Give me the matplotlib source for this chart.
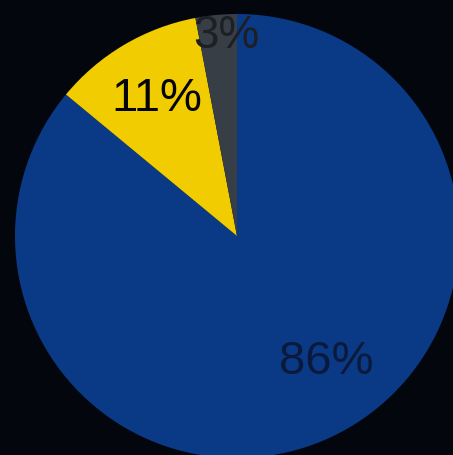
import numpy as np
import matplotlib.pyplot as plt

# Datos del gráfico
labels = ['86%', '11%', '3%']
values = [86, 11, 3]
colors = ['#0a3a86', '#f0cc00', '#373e46']
label_colors = ['#0b1a3c', '#050505', '#1c1f24']
label_xy = [(0.40, -0.565), (-0.36, 0.62), (-0.05, 0.905)]
label_sizes = [34, 34, 33]

plt.rcParams['font.family'] = ['Liberation Sans', 'DejaVu Sans']

fig = plt.figure(figsize=(4.53, 4.56), dpi=100, facecolor='#03070d')
# el círculo sale un poco por la derecha y por abajo
ax = fig.add_axes([15 / 453, -3 / 456, 444 / 453, 444 / 456])
ax.set_facecolor('#03070d')

ax.pie(values, colors=colors, startangle=90, counterclock=False,
       wedgeprops=dict(linewidth=0))

for lab, (x, y), c, s in zip(labels, label_xy, label_colors, label_sizes):
    ax.text(x, y, lab, ha='center', va='center', fontsize=s, color=c)

ax.set_xlim(-1, 1)
ax.set_ylim(-1, 1)
ax.set_aspect('equal')
ax.axis('off')

fig.savefig('out.png', dpi=100, facecolor=fig.get_facecolor())
